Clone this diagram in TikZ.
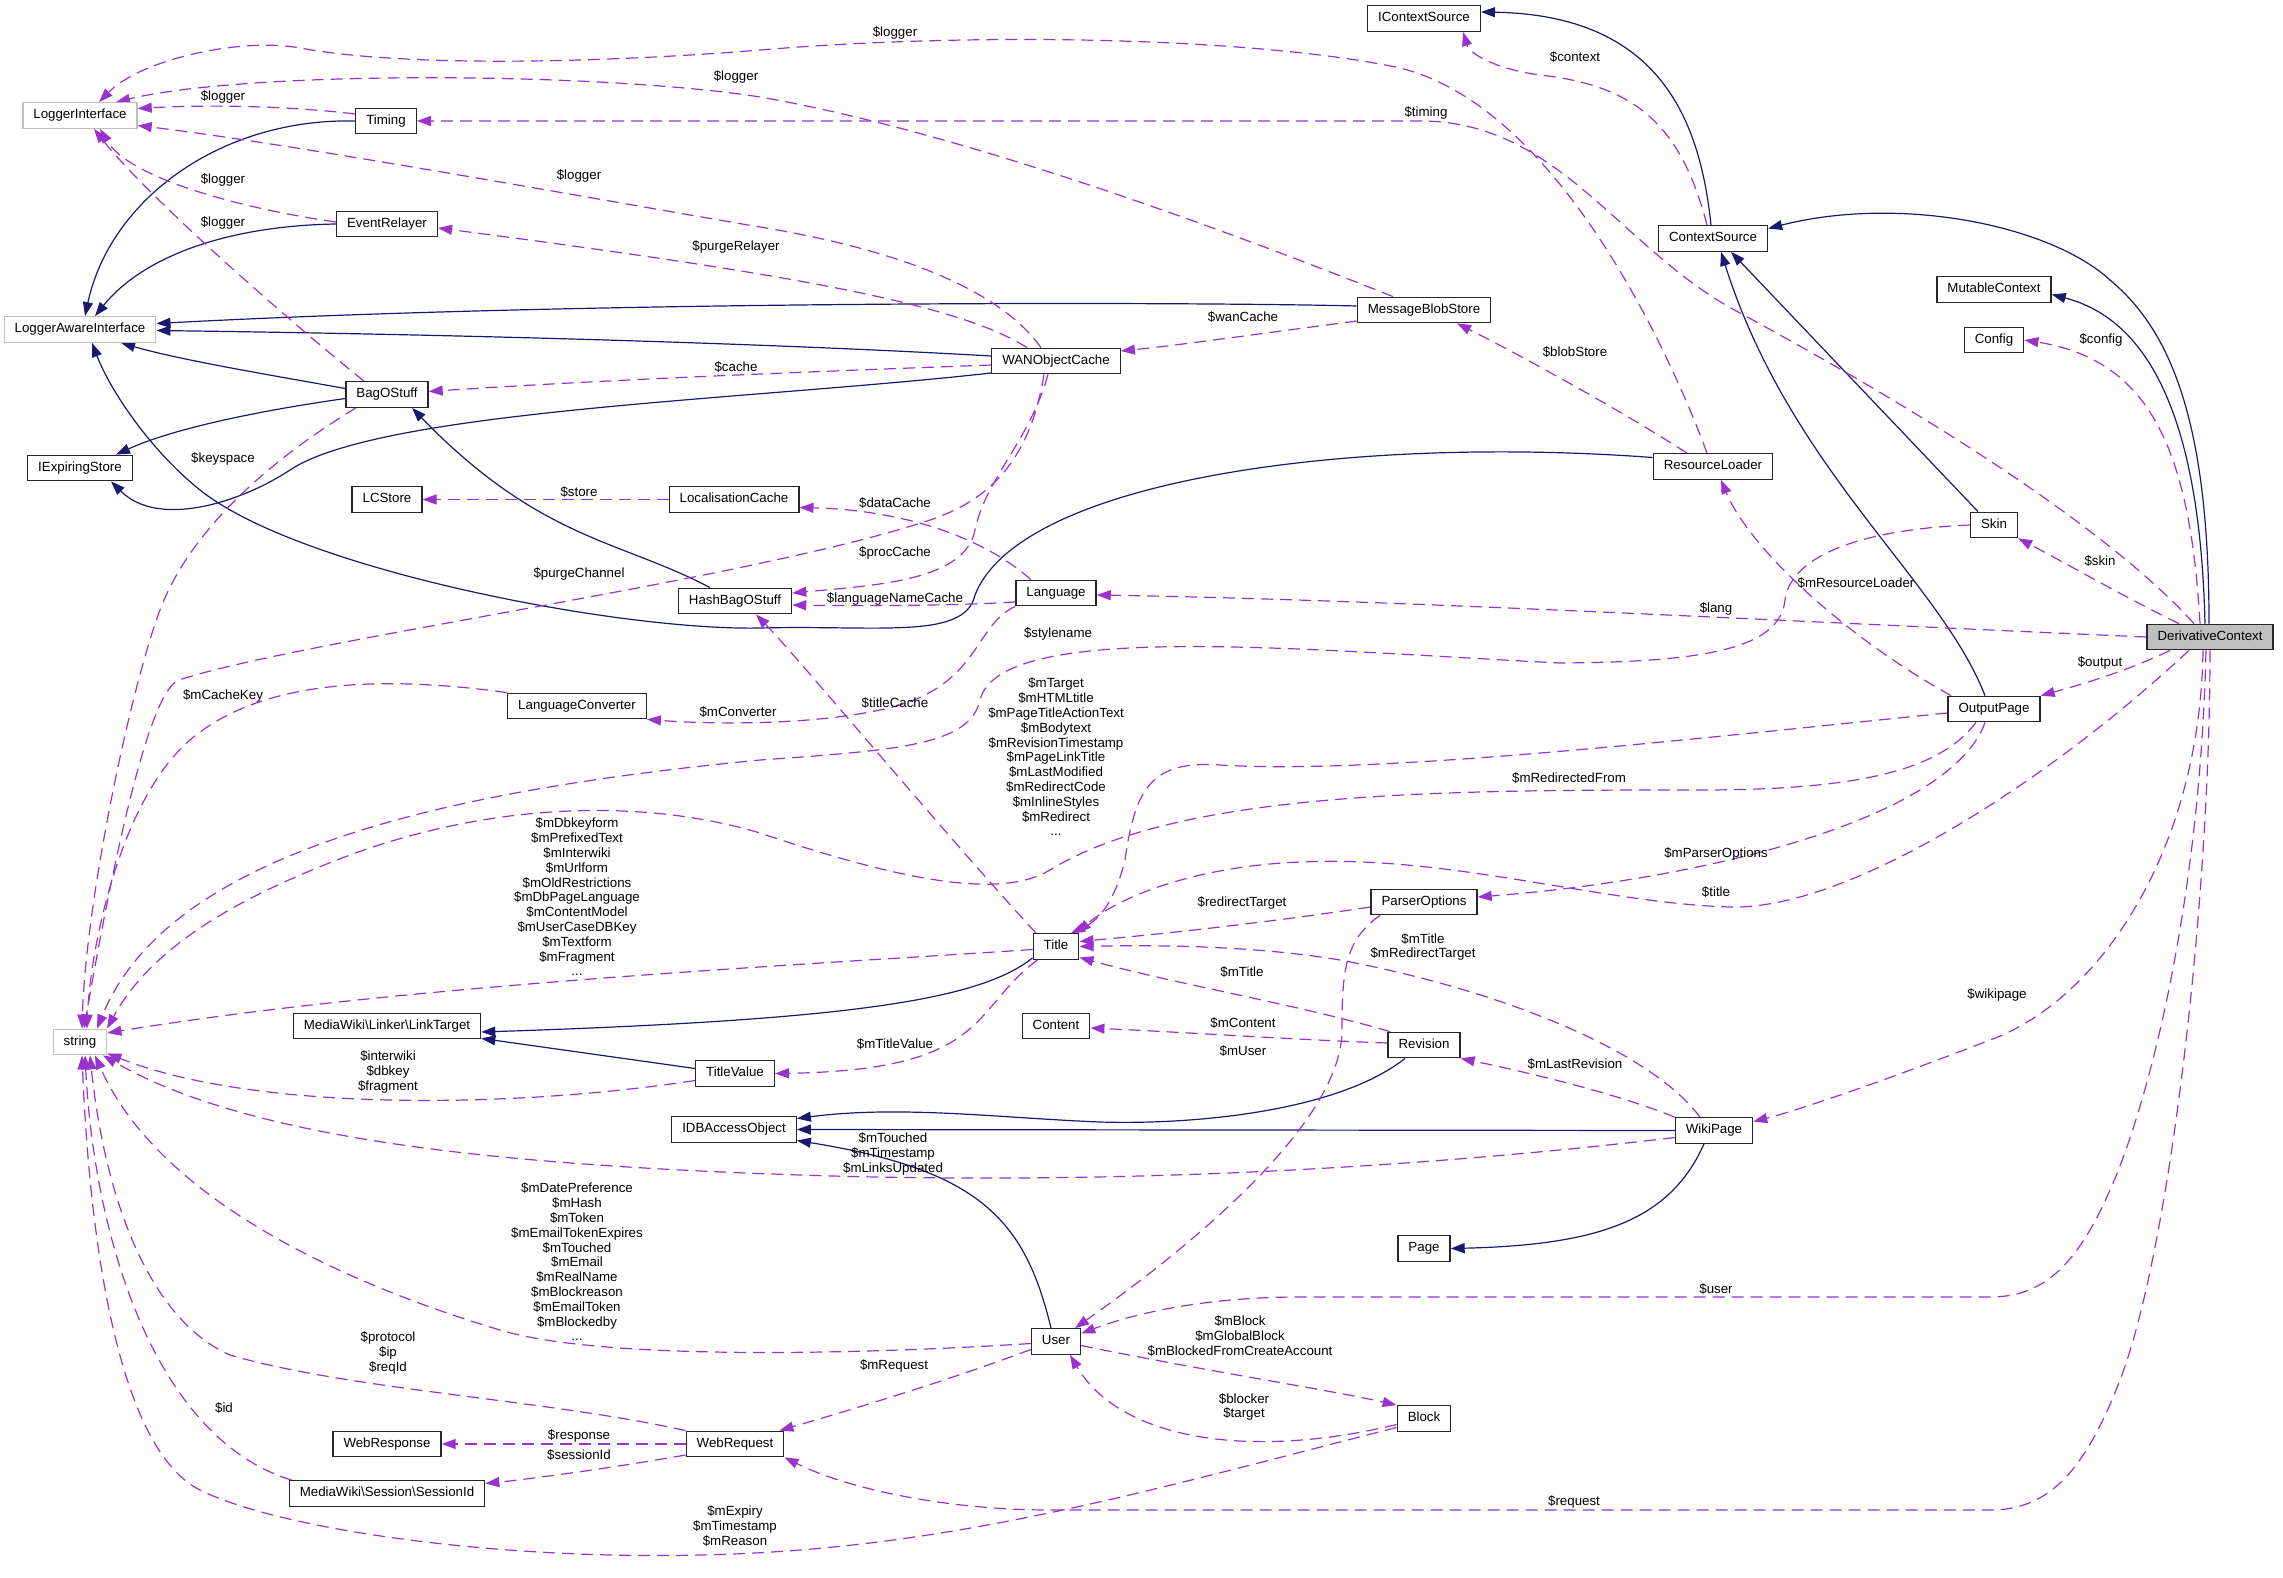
\documentclass[tikz,border=0pt]{standalone}
\usepackage{fontspec}
\setmainfont{Liberation Sans}
\usetikzlibrary{arrows.meta}
\definecolor{navyc}{RGB}{25,25,112}
\definecolor{purpc}{RGB}{154,50,205}
\definecolor{grayb}{RGB}{191,191,191}
\newcommand\dxf{\fontsize{13.3}{14.8}\selectfont}
\pgfdeclarelayer{edges}
\pgfsetlayers{edges,main}
\tikzset{
 box/.style={draw=black!85, line width=1.3pt, fill=white, font=\dxf, inner xsep=10.5pt, inner ysep=0pt, minimum height=25.5pt, text height=9.8pt, text depth=2.9pt},
 gbox/.style={box, draw=grayb},
 inh/.style={draw=navyc, line width=1.2pt, -{Triangle[length=14pt,width=10pt]}},
 dep/.style={draw=purpc, line width=1.2pt, dash pattern=on 12pt off 7pt, -{Triangle[length=14pt,width=10pt]}},
 lab/.style={font=\dxf, align=center, inner sep=0pt, text=black}
}
\begin{document}
\begin{tikzpicture}[x=1pt,y=-1pt]
\useasboundingbox (0,0) rectangle (2283,1578);
% nodes
\node[gbox] (LI) at (80,115.5) {LoggerInterface};
\node[box] (Tim) at (386,121) {Timing};
\node[box] (ER) at (387,224) {EventRelayer};
\node[gbox] (LAI) at (80,329.5) {LoggerAwareInterface};
\node[box] (BOS) at (387,394.5) {BagOStuff};
\node[box] (IES) at (80,468) {IExpiringStore};
\node[box] (LCS) at (387,499.5) {LCStore};
\node[box] (LC) at (734,499.5) {LocalisationCache};
\node[box] (ICS) at (1424,18.5) {IContextSource};
\node[box] (MBS) at (1424,310) {MessageBlobStore};
\node[box] (WAN) at (1056,361) {WANObjectCache};
\node[box] (CS) at (1713,238.5) {ContextSource};
\node[box] (MC) at (1994,289.5) {MutableContext};
\node[box] (Cfg) at (1994,340) {Config};
\node[box] (RL) at (1713,466.5) {ResourceLoader};
\node[box] (Skin) at (1994,525) {Skin};
\node[box, fill=grayb] (DC) at (2210,637) {DerivativeContext};
\node[box] (OP) at (1994,709) {OutputPage};
\node[box] (HBOS) at (735,601) {HashBagOStuff};
\node[box] (Lang) at (1056,593) {Language};
\node[box] (LConv) at (577,706) {LanguageConverter};
\node[box] (LT) at (387,1026) {MediaWiki\textbackslash Linker\textbackslash LinkTarget};
\node[gbox] (str) at (80,1042) {string};
\node[box] (Title) at (1056,946.5) {Title};
\node[box] (PO) at (1424,902) {ParserOptions};
\node[box] (Cont) at (1056,1026) {Content};
\node[box] (Rev) at (1424,1045) {Revision};
\node[box] (TV) at (735,1073.5) {TitleValue};
\node[box] (IDB) at (734,1129.5) {IDBAccessObject};
\node[box] (WP) at (1714,1130.5) {WikiPage};
\node[box] (Page) at (1424,1248.5) {Page};
\node[box] (User) at (1056,1341.5) {User};
\node[box] (Blk) at (1424,1418.5) {Block};
\node[box] (WResp) at (387,1444) {WebResponse};
\node[box] (WR) at (735,1444) {WebRequest};
\node[box] (SID) at (387,1493.5) {MediaWiki\textbackslash Session\textbackslash SessionId};

\begin{pgfonlayer}{edges}
% inheritance
\draw[inh] ([xshift=-2pt]CS.north) .. controls (1700,120) and (1660,15) .. ([yshift=6.5pt]ICS.east);
\draw[inh] ([xshift=-1pt]DC.north) .. controls (2209,420) and (2170,330) .. (2110,280) .. controls (2050,225) and (1900,195) .. ([yshift=10pt]CS.east);
\draw[inh] ([xshift=-5pt]DC.north) .. controls (2200,420) and (2150,320) .. ([yshift=-5pt]MC.east);
\draw[inh] ([xshift=-16pt]Skin.north) -- ([xshift=18pt]CS.south);
\draw[inh] ([xshift=-9pt]OP.north) .. controls (1940,580) and (1790,470) .. ([xshift=8pt]CS.south);
\draw[inh] (Tim.west) .. controls (220,118) and (110,200) .. ([xshift=5pt]LAI.north);
\draw[inh] (ER.west) .. controls (220,226) and (140,260) .. ([xshift=15pt]LAI.north);
\draw[inh] ([yshift=4pt]MBS.west) .. controls (1200,302) and (600,300) .. ([yshift=6pt]LAI.east);
\draw[inh] ([yshift=5pt]WAN.west) .. controls (800,345) and (500,335) .. ([yshift=-1pt]LAI.east);
\draw[inh] ([yshift=6pt]BOS.west) .. controls (270,375) and (180,360) .. ([xshift=41pt]LAI.south);
\draw[inh] ([yshift=-4pt]BOS.west) .. controls (250,412) and (170,430) .. ([xshift=36pt]IES.north);
\draw[inh] ([yshift=-12pt]WAN.west) .. controls (750,400) and (380,410) .. (290,470) .. controls (245,500) and (160,530) .. ([xshift=31pt]IES.south);
\draw[inh] ([xshift=-25pt]HBOS.north) .. controls (620,540) and (540,540) .. ([xshift=25pt]BOS.south);
\draw[inh] ([yshift=9pt]RL.west) .. controls (1350,435) and (1020,480) .. (975,595) .. controls (965,640) and (880,625) .. (760,628) .. controls (620,631) and (300,570) .. (200,490) .. controls (150,450) and (110,390) .. ([xshift=12pt]LAI.south);
\draw[inh] ([yshift=2pt]Title.south west) .. controls (980,1000) and (850,1020) .. ([yshift=-6pt]LT.east);
\draw[inh] ([yshift=5pt]TV.west) -- ([yshift=1pt]LT.south east);
\draw[inh] ([xshift=-19pt]Rev.south) .. controls (1340,1110) and (1200,1125) .. (1100,1122) .. controls (1000,1118) and (900,1105) .. ([yshift=11pt]IDB.east);
\draw[inh] (WP.west) -- (IDB.east);
\draw[inh] ([xshift=-5pt]User.north) .. controls (1025,1220) and (980,1170) .. ([yshift=-11pt]IDB.east);
\draw[inh] ([xshift=-10pt]WP.south) .. controls (1670,1220) and (1600,1245) .. (Page.east);
% usage
\draw[dep] ([xshift=-6pt]RL.north) .. controls (1684,390) and (1570,110) .. (1400,68) .. controls (1270,40) and (1000,30) .. (760,50) .. controls (640,60) and (420,70) .. (300,48) .. controls (240,37) and (140,60) .. ([xshift=19pt]LI.north);
\draw[dep] ([xshift=-31pt]MBS.north) .. controls (1200,220) and (950,130) .. (760,97) .. controls (600,72) and (250,70) .. ([xshift=36pt]LI.north);
\draw[dep] ([yshift=7pt]Tim.west) .. controls (280,105) and (200,105) .. ([yshift=7pt]LI.east);
\draw[dep] ([xshift=-15pt]WAN.north) .. controls (1000,290) and (900,250) .. (760,227) .. controls (600,200) and (300,145) .. ([yshift=-10pt]LI.east);
\draw[dep] ([yshift=2pt]ER.west) .. controls (250,210) and (130,180) .. ([xshift=20pt]LI.south);
\draw[dep] ([xshift=-23pt]BOS.north) .. controls (300,330) and (150,200) .. ([xshift=14pt]LI.south);
\draw[dep] ([xshift=-16pt]DC.north) .. controls (2100,520) and (1900,400) .. (1740,313) .. controls (1620,250) and (1560,121) .. (1420,121) -- (Tim.east);
\draw[dep] ([xshift=-6pt]CS.north) .. controls (1680,120) and (1630,85) .. (1540,75) .. controls (1500,70) and (1470,55) .. ([xshift=39pt]ICS.south);
\draw[dep] ([xshift=-29pt]WAN.north) .. controls (960,305) and (800,275) .. ([yshift=-4pt]ER.east);
\draw[dep] ([yshift=-11pt]MBS.west) .. controls (1250,335) and (1180,345) .. ([yshift=10pt]WAN.east);
\draw[dep] ([yshift=-4pt]WAN.west) .. controls (800,372) and (600,380) .. ([yshift=3pt]BOS.east);
\draw[dep] ([xshift=-31pt]BOS.south) .. controls (270,460) and (190,530) .. (160,610) .. controls (130,690) and (86,900) .. ([xshift=2pt]str.north);
\draw[dep] (LC.west) -- (LCS.east);
\draw[dep] ([xshift=-25pt]Lang.north) .. controls (980,535) and (900,510) .. ([yshift=-8pt]LC.east);
\draw[dep] ([xshift=-8pt]WAN.south) .. controls (1030,440) and (985,480) .. (975,530) .. controls (965,580) and (880,585) .. ([yshift=8pt]HBOS.east);
\draw[dep] ([xshift=-12pt]WAN.south) .. controls (1030,460) and (990,500) .. (930,520) .. controls (750,580) and (300,640) .. (179,680) .. controls (150,690) and (115,850) .. ([xshift=4pt]str.north);
\draw[dep] ([yshift=-9pt]Lang.west) .. controls (950,606) and (850,606) .. ([yshift=-4pt]HBOS.east);
\draw[dep] ([xshift=-20pt]Title.north) .. controls (950,840) and (800,660) .. ([xshift=21pt]HBOS.south);
\draw[dep] (Skin.west) .. controls (1850,530) and (1790,560) .. (1785,600) .. controls (1780,650) and (1700,662) .. (1560,663) .. controls (1300,650) and (1000,620) .. (980,700) .. controls (970,745) and (900,750) .. (760,760) .. controls (450,790) and (170,850) .. ([xshift=17pt]str.north);
\draw[dep] ([yshift=-4pt]OP.west) .. controls (1700,738) and (1380,775) .. (1220,765) .. controls (1150,760) and (1135,790) .. (1125,860) .. controls (1115,900) and (1100,920) .. ([xshift=15pt]Title.north);
\draw[dep] ([xshift=-18pt]OP.south) .. controls (1940,770) and (1860,790) .. (1700,790) .. controls (1450,790) and (1180,790) .. (1050,870) .. controls (1000,900) and (900,880) .. (760,833) .. controls (650,800) and (500,800) .. (350,855) .. controls (230,900) and (150,950) .. ([xshift=27pt]str.north);
\draw[dep] ([yshift=-5pt]PO.west) .. controls (1250,925) and (1150,935) .. ([yshift=5pt]Title.east);
\draw[dep] ([xshift=-21pt]DC.south) .. controls (2050,780) and (1850,910) .. (1730,907) .. controls (1600,903) and (1450,855) .. (1300,862) .. controls (1200,866) and (1120,895) .. ([xshift=21pt]Title.north);
\draw[dep] ([xshift=-9pt]OP.south) .. controls (1950,820) and (1700,880) .. ([yshift=5pt]PO.east);
\draw[dep] ([xshift=-44pt]PO.south) .. controls (1345,940) and (1342,970) .. (1342,1030) .. controls (1342,1120) and (1200,1240) .. ([xshift=19pt]User.north);
\draw[dep] ([xshift=-34pt]Rev.north) .. controls (1300,1005) and (1180,985) .. ([yshift=-11pt]Title.east);
\draw[dep] ([xshift=-14pt]WP.north) .. controls (1650,1050) and (1500,990) .. (1340,960) .. controls (1250,945) and (1150,945) .. (Title.east);
\draw[dep] (WP.north west) .. controls (1620,1095) and (1540,1075) .. (Rev.south east);
\draw[dep] ([yshift=2pt]Rev.west) .. controls (1300,1040) and (1200,1033) .. ([yshift=-2pt]Cont.east);
\draw[dep] ([xshift=5pt]Title.south west) .. controls (970,1010) and (990,1070) .. (TV.east);
\draw[dep] ([yshift=-3pt]Title.west) .. controls (800,965) and (400,985) .. ([yshift=9pt]str.east);
\draw[dep] ([yshift=-7pt]TV.west) .. controls (500,1110) and (250,1110) .. ([yshift=2pt]str.south east);
\draw[dep] ([yshift=-7pt]WP.west) .. controls (1400,1170) and (1100,1185) .. (800,1175) .. controls (500,1165) and (250,1140) .. ([xshift=23pt]str.south);
\draw[dep] ([yshift=-2pt]User.west) .. controls (850,1355) and (600,1360) .. (500,1330) .. controls (300,1270) and (150,1180) .. ([xshift=15pt]str.south);
\draw[dep] ([yshift=-8pt]User.west) .. controls (950,1380) and (850,1410) .. ([xshift=-5pt]WR.north east);
\draw[dep] ([yshift=-4pt]User.east) .. controls (1200,1370) and (1330,1390) .. (Blk.north west);
\draw[dep] ([yshift=-6pt]Blk.west) .. controls (1250,1460) and (1120,1440) .. ([xshift=14pt]User.south);
\draw[dep] ([yshift=-9pt]Blk.west) .. controls (1150,1490) and (950,1550) .. (700,1555) .. controls (500,1560) and (280,1530) .. (200,1490) .. controls (120,1450) and (90,1250) .. ([xshift=2pt]str.south);
\draw[dep] ([xshift=3pt]SID.north west) .. controls (160,1440) and (95,1250) .. ([xshift=5pt]str.south);
\draw[dep] (WR.north west) .. controls (550,1400) and (350,1390) .. (230,1355) .. controls (150,1320) and (105,1200) .. ([xshift=10pt]str.south);
\draw[dep] (WR.west) -- (WResp.east);
\draw[dep] ([yshift=-11pt]WR.west) .. controls (600,1470) and (520,1480) .. ([yshift=10pt]SID.east);
\draw[dep] ([xshift=-4pt]DC.south) .. controls (2200,900) and (2150,1100) .. (2110,1190) .. controls (2075,1270) and (2040,1297) .. (1990,1297) -- (1300,1297) .. controls (1200,1297) and (1130,1315) .. ([yshift=8pt]User.east);
\draw[dep] (DC.south) .. controls (2210,900) and (2170,1250) .. (2120,1380) .. controls (2085,1470) and (2050,1510) .. (1990,1510) -- (1050,1510) .. controls (950,1510) and (850,1490) .. (WR.south east);
\draw[dep] ([xshift=-7pt]DC.south) .. controls (2200,850) and (2100,1000) .. (1990,1040) .. controls (1900,1075) and (1800,1110) .. ([yshift=9pt]WP.east);
\draw[dep] ([xshift=-31pt]DC.north) .. controls (2130,600) and (2060,560) .. (Skin.south east);
\draw[dep] ([xshift=-40pt]DC.south) .. controls (2130,670) and (2080,685) .. (OP.north east);
\draw[dep] (DC.west) .. controls (1800,622) and (1400,600) .. ([yshift=-2pt]Lang.east);
\draw[dep] ([xshift=-10pt]DC.north) .. controls (2190,450) and (2150,360) .. (Cfg.east);
\draw[dep] ([xshift=-26pt]RL.north) .. controls (1620,410) and (1520,355) .. ([xshift=33pt]MBS.south);
\draw[dep] ([xshift=-43pt]OP.north) .. controls (1850,640) and (1750,550) .. ([xshift=8pt]RL.south);
\draw[dep] (LConv.north west) .. controls (380,675) and (260,680) .. (190,740) .. controls (120,800) and (90,950) .. ([xshift=7pt]str.north);
\draw[dep] (Lang.south west) .. controls (975,625) and (980,680) .. (900,705) .. controls (830,725) and (720,725) .. (LConv.south east);
\end{pgfonlayer}

% labels
\node[lab] (l1) at (895,33) {\$logger};
\node[lab] (l2) at (736,77) {\$logger};
\node[lab] (l3) at (223,97) {\$logger};
\node[lab] (l4) at (579,176) {\$logger};
\node[lab] (l5) at (223,180) {\$logger};
\node[lab] (l6) at (223,223) {\$logger};
\node[lab] (l7) at (1426,113) {\$timing};
\node[lab] (l8) at (1575,57) {\$context};
\node[lab] (l9) at (736,247) {\$purgeRelayer};
\node[lab] (l10) at (1243,317) {\$wanCache};
\node[lab] (l11) at (736,367) {\$cache};
\node[lab] (l12) at (223,459) {\$keyspace};
\node[lab] (l13) at (579,492) {\$store};
\node[lab] (l14) at (895,503) {\$dataCache};
\node[lab] (l15) at (895,553) {\$procCache};
\node[lab] (l16) at (579,574) {\$purgeChannel};
\node[lab] (l17) at (895,599) {\$languageNameCache};
\node[lab] (l18) at (1058,634) {\$stylename};
\node[lab] (l19) at (223,696) {\$mCacheKey};
\node[lab] (l20) at (738,712) {\$mConverter};
\node[lab] (l21) at (895,703) {\$titleCache};
\node[lab] (l22) at (1056,757) {\$mTarget\\\$mHTMLtitle\\\$mPageTitleActionText\\\$mBodytext\\\$mRevisionTimestamp\\\$mPageLinkTitle\\\$mLastModified\\\$mRedirectCode\\\$mInlineStyles\\\$mRedirect\\...};
\node[lab] (l23) at (1569,778) {\$mRedirectedFrom};
\node[lab] (l24) at (1716,854) {\$mParserOptions};
\node[lab] (l25) at (1716,892) {\$title};
\node[lab] (l26) at (1242,903) {\$redirectTarget};
\node[lab] (l27) at (1423,947) {\$mTitle\\\$mRedirectTarget};
\node[lab] (l28) at (1242,972) {\$mTitle};
\node[lab] (l29) at (1243,1023) {\$mContent};
\node[lab] (l30) at (577,897) {\$mDbkeyform\\\$mPrefixedText\\\$mInterwiki\\\$mUrlform\\\$mOldRestrictions\\\$mDbPageLanguage\\\$mContentModel\\\$mUserCaseDBKey\\\$mTextform\\\$mFragment\\...};
\node[lab] (l31) at (895,1044) {\$mTitleValue};
\node[lab] (l32) at (1243,1051) {\$mUser};
\node[lab] (l33) at (1575,1064) {\$mLastRevision};
\node[lab] (l34) at (388,1072) {\$interwiki\\\$dbkey\\\$fragment};
\node[lab] (l35) at (893,1154) {\$mTouched\\\$mTimestamp\\\$mLinksUpdated};
\node[lab] (l36) at (1997,995) {\$wikipage};
\node[lab] (l37) at (577,1262) {\$mDatePreference\\\$mHash\\\$mToken\\\$mEmailTokenExpires\\\$mTouched\\\$mEmail\\\$mRealName\\\$mBlockreason\\\$mEmailToken\\\$mBlockedby\\...};
\node[lab] (l38) at (1716,1289) {\$user};
\node[lab] (l39) at (1240,1336) {\$mBlock\\\$mGlobalBlock\\\$mBlockedFromCreateAccount};
\node[lab] (l40) at (894,1366) {\$mRequest};
\node[lab] (l41) at (388,1353) {\$protocol\\\$ip\\\$reqId};
\node[lab] (l42) at (1244,1407) {\$blocker\\\$target};
\node[lab] (l43) at (224,1408) {\$id};
\node[lab] (l44) at (579,1436) {\$response};
\node[lab] (l45) at (579,1455) {\$sessionId};
\node[lab] (l46) at (1574,1502) {\$request};
\node[lab] (l47) at (735,1526) {\$mExpiry\\\$mTimestamp\\\$mReason};
\node[lab] (l48) at (2100,561) {\$skin};
\node[lab] (l49) at (2100,663) {\$output};
\node[lab] (l50) at (1716,609) {\$lang};
\node[lab] (l51) at (2101,340) {\$config};
\node[lab] (l52) at (1575,352) {\$blobStore};
\node[lab] (l53) at (1856,583) {\$mResourceLoader};
\end{tikzpicture}
\end{document}
